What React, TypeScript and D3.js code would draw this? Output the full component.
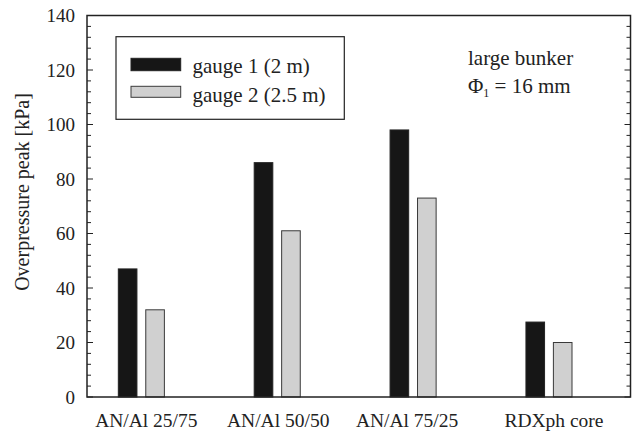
import React from "react";
import * as d3 from "d3";

const categories = ["AN/Al 25/75", "AN/Al 50/50", "AN/Al 75/25", "RDXph core"];
const gauge1 = [47, 86, 98, 27.5];
const gauge2 = [32, 61, 73, 20];
const seriesNames = ["gauge 1 (2 m)", "gauge 2 (2.5 m)"];
const yMajorTicks = [0, 20, 40, 60, 80, 100, 120, 140];

const W = 634;
const H = 433;
const left = 87;
const right = 630.5;
const top = 15.5;
const bottom = 397;
// small horizontal nudges of the category labels, as in the original layout
const LABEL_NUDGE = [5, 1, -6, 5];

const FONT = "Liberation Serif";
const BLACK = "#161616";
const GRAY = "#d0d0d0";

export default function App() {
  const x = d3.scaleLinear().domain([0.6, 4.6]).range([left, right]);
  const y = d3.scaleLinear().domain([0, 140]).range([bottom, top]);
  const minor = d3.range(0, 141, 4);
  const bw = 0.137;
  const off = 0.101;

  const series = [
    { values: gauge1, fill: BLACK, stroke: "#222", dx: -off },
    { values: gauge2, fill: GRAY, stroke: "#3a3a3a", dx: off },
  ];

  const ts = { fontFamily: FONT };

  return (
    <svg
      width={W}
      height={H}
      style={{ position: "absolute", left: 0, top: 0, background: "#fff" }}
    >
      <rect x={0} y={0} width={W} height={H} fill="#fff" />
      {series.map((s, si) =>
        s.values.map((v, i) => {
          const c = i + 1 + s.dx;
          const x0 = x(c - bw / 2);
          const x1 = x(c + bw / 2);
          return (
            <rect
              key={`${si}-${i}`}
              x={x0}
              y={y(v)}
              width={x1 - x0}
              height={y(0) - y(v)}
              fill={s.fill}
              stroke={s.stroke}
              strokeWidth={1}
            />
          );
        })
      )}
      {minor.map((t) => {
        const major = t % 20 === 0;
        const len = major ? 6 : 4;
        return (
          <g key={`t${t}`} stroke="#222" strokeWidth={1}>
            <line x1={left} x2={left + len} y1={y(t)} y2={y(t)} />
            <line x1={right} x2={right - len} y1={y(t)} y2={y(t)} />
          </g>
        );
      })}
      <rect
        x={left}
        y={top}
        width={right - left}
        height={bottom - top}
        fill="none"
        stroke="#222"
        strokeWidth={1.5}
      />
      {yMajorTicks.map((t) => (
        <text
          key={`yl${t}`}
          x={75}
          y={y(t)}
          dy="0.35em"
          textAnchor="end"
          fontSize={19}
          fill="#222"
          style={ts}
        >
          {t}
        </text>
      ))}
      {categories.map((c, i) => (
        <text
          key={c}
          x={x(i + 1) + LABEL_NUDGE[i]}
          y={427}
          textAnchor="middle"
          fontSize={19.5}
          fill="#222"
          style={ts}
        >
          {c}
        </text>
      ))}
      <text
        transform={`translate(29,192) rotate(-90)`}
        textAnchor="middle"
        fontSize={20}
        fill="#222"
        style={ts}
      >
        Overpressure peak [kPa]
      </text>
      <rect x={116} y={36.7} width={228.3} height={82.6} fill="#fff" stroke="#222" strokeWidth={1.2} />
      <rect x={131} y={58.3} width={49.7} height={12.4} fill={BLACK} stroke="#222" strokeWidth={1} />
      <rect x={131} y={86.3} width={49.7} height={11} fill={GRAY} stroke="#3a3a3a" strokeWidth={1} />
      <text x={192.5} y={73.3} fontSize={21} fill="#222" style={ts}>
        {seriesNames[0]}
      </text>
      <text x={192.5} y={101.5} fontSize={21} fill="#222" style={ts}>
        {seriesNames[1]}
      </text>
      <text x={468} y={65} fontSize={21} fill="#222" style={ts}>
        large bunker
      </text>
      <text x={468} y={93} fontSize={21} fill="#222" style={ts}>
        Φ<tspan fontSize={12} dy={4}>1</tspan>
        <tspan dy={-4}> = 16 mm</tspan>
      </text>
    </svg>
  );
}
